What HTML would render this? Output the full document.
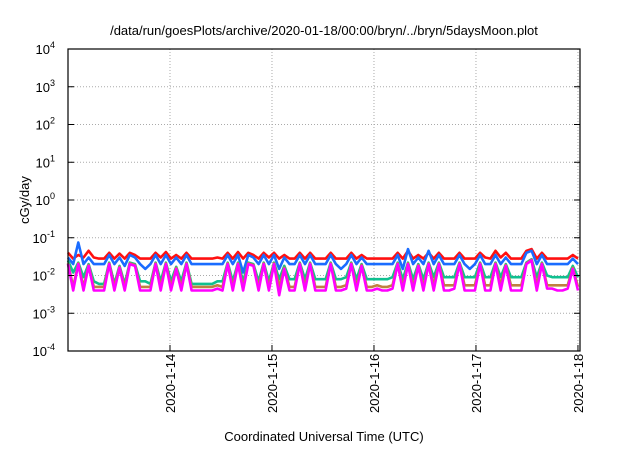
<!DOCTYPE html>
<html><head><meta charset="utf-8"><style>
body{margin:0;background:#fff;width:640px;height:448px;overflow:hidden}
svg{font-family:"Liberation Sans",sans-serif}
</style></head><body>
<svg id="c" width="640" height="448">
<text x="324" y="35" font-size="13" text-anchor="middle">/data/run/goesPlots/archive/2020-01-18/00:00/bryn/../bryn/5daysMoon.plot</text>
<text transform="translate(29,200) rotate(-90)" font-size="13" text-anchor="middle">cGy/day</text>
<text x="324" y="441" font-size="13" text-anchor="middle">Coordinated Universal Time (UTC)</text>
<g id="grid"></g><g id="series"></g><g id="axes"></g>
</svg>
<script>
const yExps=[-4,-3,-2,-1,0,1,2,3,4];
const xTickDays=[14,15,16,17,18];
const xTickLabels=["2020-1-14","2020-1-15","2020-1-16","2020-1-17","2020-1-18"];
const magenta=[0.02,0.004,0.02,0.004,0.018,0.004,0.004,0.004,0.02,0.004,
0.016,0.004,0.02,0.018,0.004,0.004,0.004,0.02,0.004,0.02,
0.004,0.015,0.004,0.02,0.004,0.004,0.004,0.004,0.004,0.0045,
0.004,0.02,0.004,0.02,0.004,0.02,0.018,0.004,0.02,0.004,
0.02,0.003,0.015,0.004,0.004,0.02,0.004,0.02,0.004,0.004,
0.004,0.02,0.004,0.004,0.0045,0.02,0.004,0.018,0.004,0.004,
0.0045,0.004,0.004,0.0045,0.02,0.004,0.02,0.004,0.018,0.004,
0.02,0.004,0.02,0.004,0.004,0.0045,0.02,0.004,0.004,0.004,
0.02,0.004,0.004,0.02,0.004,0.018,0.004,0.004,0.004,0.02,
0.025,0.004,0.02,0.0045,0.0045,0.004,0.004,0.0045,0.015,0.004];
const orange=[0.021,0.005,0.021,0.005,0.019,0.005,0.005,0.005,0.021,0.005,
0.017,0.005,0.021,0.019,0.005,0.005,0.005,0.021,0.005,0.021,
0.005,0.016,0.005,0.021,0.005,0.005,0.005,0.005,0.005,0.0055,
0.005,0.021,0.005,0.021,0.005,0.021,0.019,0.005,0.021,0.005,
0.021,0.005,0.016,0.005,0.005,0.021,0.005,0.021,0.005,0.005,
0.005,0.021,0.005,0.005,0.0055,0.021,0.005,0.019,0.005,0.005,
0.0055,0.005,0.005,0.0055,0.021,0.005,0.021,0.005,0.019,0.005,
0.021,0.0055,0.021,0.0055,0.0055,0.0055,0.021,0.0055,0.0055,0.0055,
0.021,0.0055,0.0055,0.021,0.0055,0.019,0.0055,0.0055,0.0055,0.021,
0.026,0.0055,0.021,0.0055,0.0055,0.0055,0.0055,0.0055,0.016,0.005];
const green=[0.025,0.012,0.022,0.009,0.02,0.007,0.006,0.006,0.022,0.006,
0.018,0.006,0.022,0.02,0.007,0.007,0.006,0.022,0.007,0.022,
0.007,0.017,0.007,0.022,0.006,0.006,0.006,0.006,0.006,0.007,
0.007,0.022,0.007,0.022,0.007,0.022,0.02,0.007,0.022,0.007,
0.022,0.008,0.018,0.008,0.008,0.022,0.008,0.022,0.008,0.008,
0.008,0.022,0.008,0.008,0.009,0.022,0.008,0.02,0.008,0.008,
0.008,0.008,0.008,0.009,0.022,0.008,0.022,0.008,0.02,0.008,
0.022,0.009,0.022,0.009,0.009,0.009,0.022,0.009,0.009,0.009,
0.022,0.009,0.009,0.022,0.009,0.02,0.009,0.009,0.009,0.022,
0.027,0.009,0.022,0.01,0.009,0.009,0.009,0.009,0.018,0.009];
const blue=[0.03,0.02,0.075,0.02,0.03,0.02,0.02,0.02,0.035,0.02,
0.03,0.018,0.035,0.03,0.02,0.015,0.02,0.035,0.02,0.035,
0.02,0.03,0.02,0.035,0.02,0.02,0.02,0.02,0.02,0.02,
0.02,0.035,0.02,0.035,0.012,0.035,0.03,0.02,0.035,0.02,
0.035,0.015,0.03,0.02,0.02,0.035,0.02,0.035,0.02,0.02,
0.02,0.035,0.02,0.015,0.02,0.035,0.02,0.03,0.02,0.02,
0.02,0.02,0.02,0.02,0.035,0.015,0.05,0.02,0.03,0.02,
0.045,0.02,0.035,0.02,0.02,0.02,0.035,0.02,0.015,0.02,
0.035,0.02,0.02,0.035,0.02,0.03,0.02,0.02,0.02,0.04,
0.045,0.02,0.035,0.02,0.02,0.02,0.02,0.02,0.028,0.02];
const red=[0.04,0.028,0.035,0.03,0.045,0.03,0.028,0.028,0.04,0.028,
0.038,0.028,0.04,0.035,0.028,0.028,0.028,0.04,0.03,0.042,
0.028,0.035,0.028,0.04,0.028,0.028,0.028,0.028,0.028,0.03,
0.028,0.04,0.028,0.042,0.028,0.04,0.035,0.028,0.04,0.03,
0.04,0.028,0.035,0.028,0.028,0.04,0.028,0.04,0.028,0.028,
0.028,0.04,0.028,0.028,0.028,0.04,0.028,0.035,0.028,0.028,
0.028,0.028,0.028,0.028,0.04,0.028,0.045,0.028,0.035,0.028,
0.04,0.028,0.04,0.028,0.028,0.028,0.04,0.028,0.028,0.028,
0.04,0.03,0.028,0.045,0.03,0.04,0.028,0.028,0.028,0.045,
0.05,0.028,0.04,0.028,0.028,0.028,0.028,0.028,0.035,0.028];
const NS="http://www.w3.org/2000/svg";
const L=68,R=580,T=49,B=351,d0=13.0,d1=18.02;
const xs=d=>L+(d-d0)/(d1-d0)*(R-L);
const ys=v=>B-(Math.log10(v)+4)/8*(B-T);
function mk(t,a,p){const e=document.createElementNS(NS,t);for(const k in a)e.setAttribute(k,a[k]);p.appendChild(e);return e;}
const grid=document.getElementById('grid'),axes=document.getElementById('axes'),ser=document.getElementById('series');
yExps.forEach(e=>{const y=ys(Math.pow(10,e));
 if(e>-4&&e<4){const g=mk('line',{x1:L,x2:R,y1:y,y2:y,stroke:'#aaa','stroke-dasharray':'1,2','stroke-width':1},grid);
 
 }
 const t=mk('line',{x1:L,x2:L+6,y1:y,y2:y,stroke:'#000'},axes);
 
 
 const t2=mk('line',{x1:R-6,x2:R,y1:y,y2:y,stroke:'#000'},axes);
 
 
 const tx=mk('text',{x:L-13,y:y+5,'font-size':13,'text-anchor':'end'},axes);tx.textContent='10';
 const sp=mk('tspan',{dy:-6,'font-size':9},tx);sp.textContent=String(e);
 
 
});
xTickDays.forEach((d,i)=>{const x=xs(d);
 const g=mk('line',{x1:x,x2:x,y1:T,y2:B,stroke:'#aaa','stroke-dasharray':'1,2'},grid);
 
 
 const t=mk('line',{x1:x,x2:x,y1:B-6,y2:B,stroke:'#000'},axes);
 
 
 const tx=mk('text',{transform:`translate(${x+5},${B+62}) rotate(-90)`,'font-size':13},axes);
 tx.textContent=xTickLabels[i];
 
 
});
const fr=mk('rect',{x:L,y:T,width:R-L,height:B-T,fill:'none',stroke:'#000','stroke-width':1.2},axes);


const S=[[red,'#ff1010','series-red'],[blue,'#1a6cff','series-blue'],[green,'#10c090','series-green'],[orange,'#c08040','series-orange'],[magenta,'#ff00ff','series-magenta']];
S.forEach(([arr,col,name])=>{const n=arr.length;
 const pts=arr.map((v,i)=>xs(d0+i*(18.0-d0)/(n-1)).toFixed(1)+','+ys(v).toFixed(1)).join(' ');
 const p=mk('polyline',{points:pts,fill:'none',stroke:col,'stroke-width':2.6,'stroke-linejoin':'round'},ser);
 
 
});
</script>
</body></html>
